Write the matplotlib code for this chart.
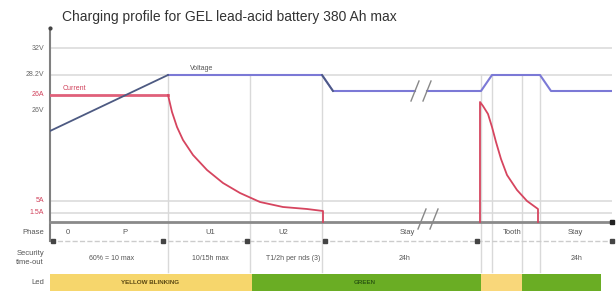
import matplotlib
matplotlib.use("Agg")
import matplotlib.pyplot as plt

plt.rcParams['font.family'] = ['Liberation Sans', 'DejaVu Sans']

# --- schematic levels (diagram units, baseline = 0) ---
level_labels = ["32V", "28.2V", "26A", "26V", "5A", "1.5A"]
level_values = [174, 147, 127, 112, 21, 9]
level_colors = ["#666666", "#666666", "#d0405a", "#666666", "#d0405a", "#d0405a"]
grid_levels = [174, 147, 21, 9]

# voltage trace (before and after the time break)
volt_ramp_x = [0, 118]
volt_ramp_y = [91, 147]
volt1_x = [118, 272, 283, 365]
volt1_y = [147, 147, 131, 131]
volt2_x = [377, 431, 442, 490, 501, 562]
volt2_y = [131, 131, 147, 147, 131, 131]

# current trace
cur1_x = [0, 118, 122, 127, 133, 143, 157, 173, 190, 210, 233, 257, 273, 273]
cur1_y = [127, 127, 110, 95, 82, 67, 52, 39, 29, 20, 15, 13, 11, 0]
cur2_x = [430, 430, 433, 438, 442, 446, 451, 457, 467, 477, 488, 488]
cur2_y = [0, 120, 116, 108, 95, 80, 63, 47, 32, 21, 13, 0]

phase_edges = [118, 200, 272, 431, 442, 472, 490]

phase_names = ["0", "P", "U1", "U2", "Stay", "Tooth", "Stay"]
phase_pos = [18, 75, 160, 233, 357, 462, 525]

timeout_names = ["60% = 10 max", "10/15h max", "T1/2h per nds (3)", "24h", "24h"]
timeout_pos = [62, 160, 243, 355, 527]
timeout_marks = [3, 113, 197, 275, 427, 562]

led_starts = [0, 202, 431, 472]
led_ends = [202, 431, 472, 551]
led_colors = ["#f6d66c", "#6aad24", "#f9d77a", "#6aad24"]
led_texts = ["YELLOW BLINKING", "GREEN"]
led_text_pos = [100, 315]
led_text_colors = ["#5a4712", "#2d5a12"]

fig = plt.figure(figsize=(6.16, 2.91), dpi=100)
ax = fig.add_axes([50 / 616, 0, 562 / 616, 263 / 291])
ax.set_xlim(0, 562)
ax.set_ylim(-69, 194)
ax.axis("off")

fig.text(62 / 616, 1 - 17 / 291, "Charging profile for GEL lead-acid battery 380 Ah max",
         fontsize=10, color="#333333", va="center", ha="left")

# grid
for lv in grid_levels:
    ax.plot([0, 562], [lv, lv], color="#dcdcdc", lw=1.2, zorder=1)
for xe in phase_edges:
    ax.plot([xe, xe], [-50, 147], color="#d9d9d9", lw=1, zorder=1)

# level labels
for lab, lv, col in zip(level_labels, level_values, level_colors):
    ax.text(-6, lv, lab, ha="right", va="center", fontsize=5, color=col, clip_on=False)

# axes lines
ax.plot([0, 0], [-19, 194], color="#808080", lw=1.5, zorder=3, clip_on=False)
ax.plot([0], [194], marker="o", ms=2, color="#444444", clip_on=False, zorder=4)
ax.plot([0, 562], [0, 0], color="#8a8a8a", lw=2, zorder=3, clip_on=False)
ax.plot([562], [0], marker="s", ms=2.5, color="#222222", clip_on=False, zorder=4)

# current
ax.plot(cur1_x[:2], cur1_y[:2], color="#e0607a", lw=2, zorder=5)
ax.plot(cur1_x[1:], cur1_y[1:], color="#d6455f", lw=1.3, zorder=5)
ax.plot(cur2_x, cur2_y, color="#d6455f", lw=1.3, zorder=5)
ax.text(13, 133, "Current", fontsize=5, color="#d0405a", va="center")

# voltage
ax.plot(volt1_x, volt1_y, color="#7b79d6", lw=1.5, zorder=6)
ax.plot(volt2_x, volt2_y, color="#7b79d6", lw=1.5, zorder=6)
ax.plot(volt_ramp_x, volt_ramp_y, color="#4d5a82", lw=1.3, zorder=6)
ax.plot(volt1_x[1:3], volt1_y[1:3], color="#4d5a82", lw=1.3, zorder=6)
ax.text(140, 153, "Voltage", fontsize=5, color="#555555", va="center")

# time break marks
for bx, by in [(365, 131), (377, 131), (372, 3), (384, 3)]:
    ax.plot([bx - 4, bx + 4], [by - 10, by + 10], color="#888888", lw=1, zorder=7)

# rows
ax.text(-6, -10, "Phase", ha="right", va="center", fontsize=5.5, color="#555555")
ax.text(-6, -36, "Security\ntime-out", ha="right", va="center", fontsize=5.5,
        color="#555555", linespacing=1.4)
ax.text(-6, -61, "Led", ha="right", va="center", fontsize=5.5, color="#555555")

for name, xp in zip(phase_names, phase_pos):
    ax.text(xp, -10, name, ha="center", va="center", fontsize=5.5, color="#555555")

ax.plot([0, 562], [-19, -19], color="#cccccc", lw=1, ls="--", zorder=2)
ax.plot(timeout_marks, [-19] * len(timeout_marks), ls="none", marker="s", ms=2.5,
        color="#444444", zorder=3, clip_on=False)
for name, xp in zip(timeout_names, timeout_pos):
    ax.text(xp, -36, name, ha="center", va="center", fontsize=5, color="#555555")

ax.barh(-60, [e - s for s, e in zip(led_starts, led_ends)], left=led_starts,
        height=17, color=led_colors, zorder=2)
for name, xp, col in zip(led_texts, led_text_pos, led_text_colors):
    ax.text(xp, -60, name, ha="center", va="center", fontsize=4.5, color=col,
            fontweight="bold", zorder=3)

fig.savefig("out.png", dpi=100)
